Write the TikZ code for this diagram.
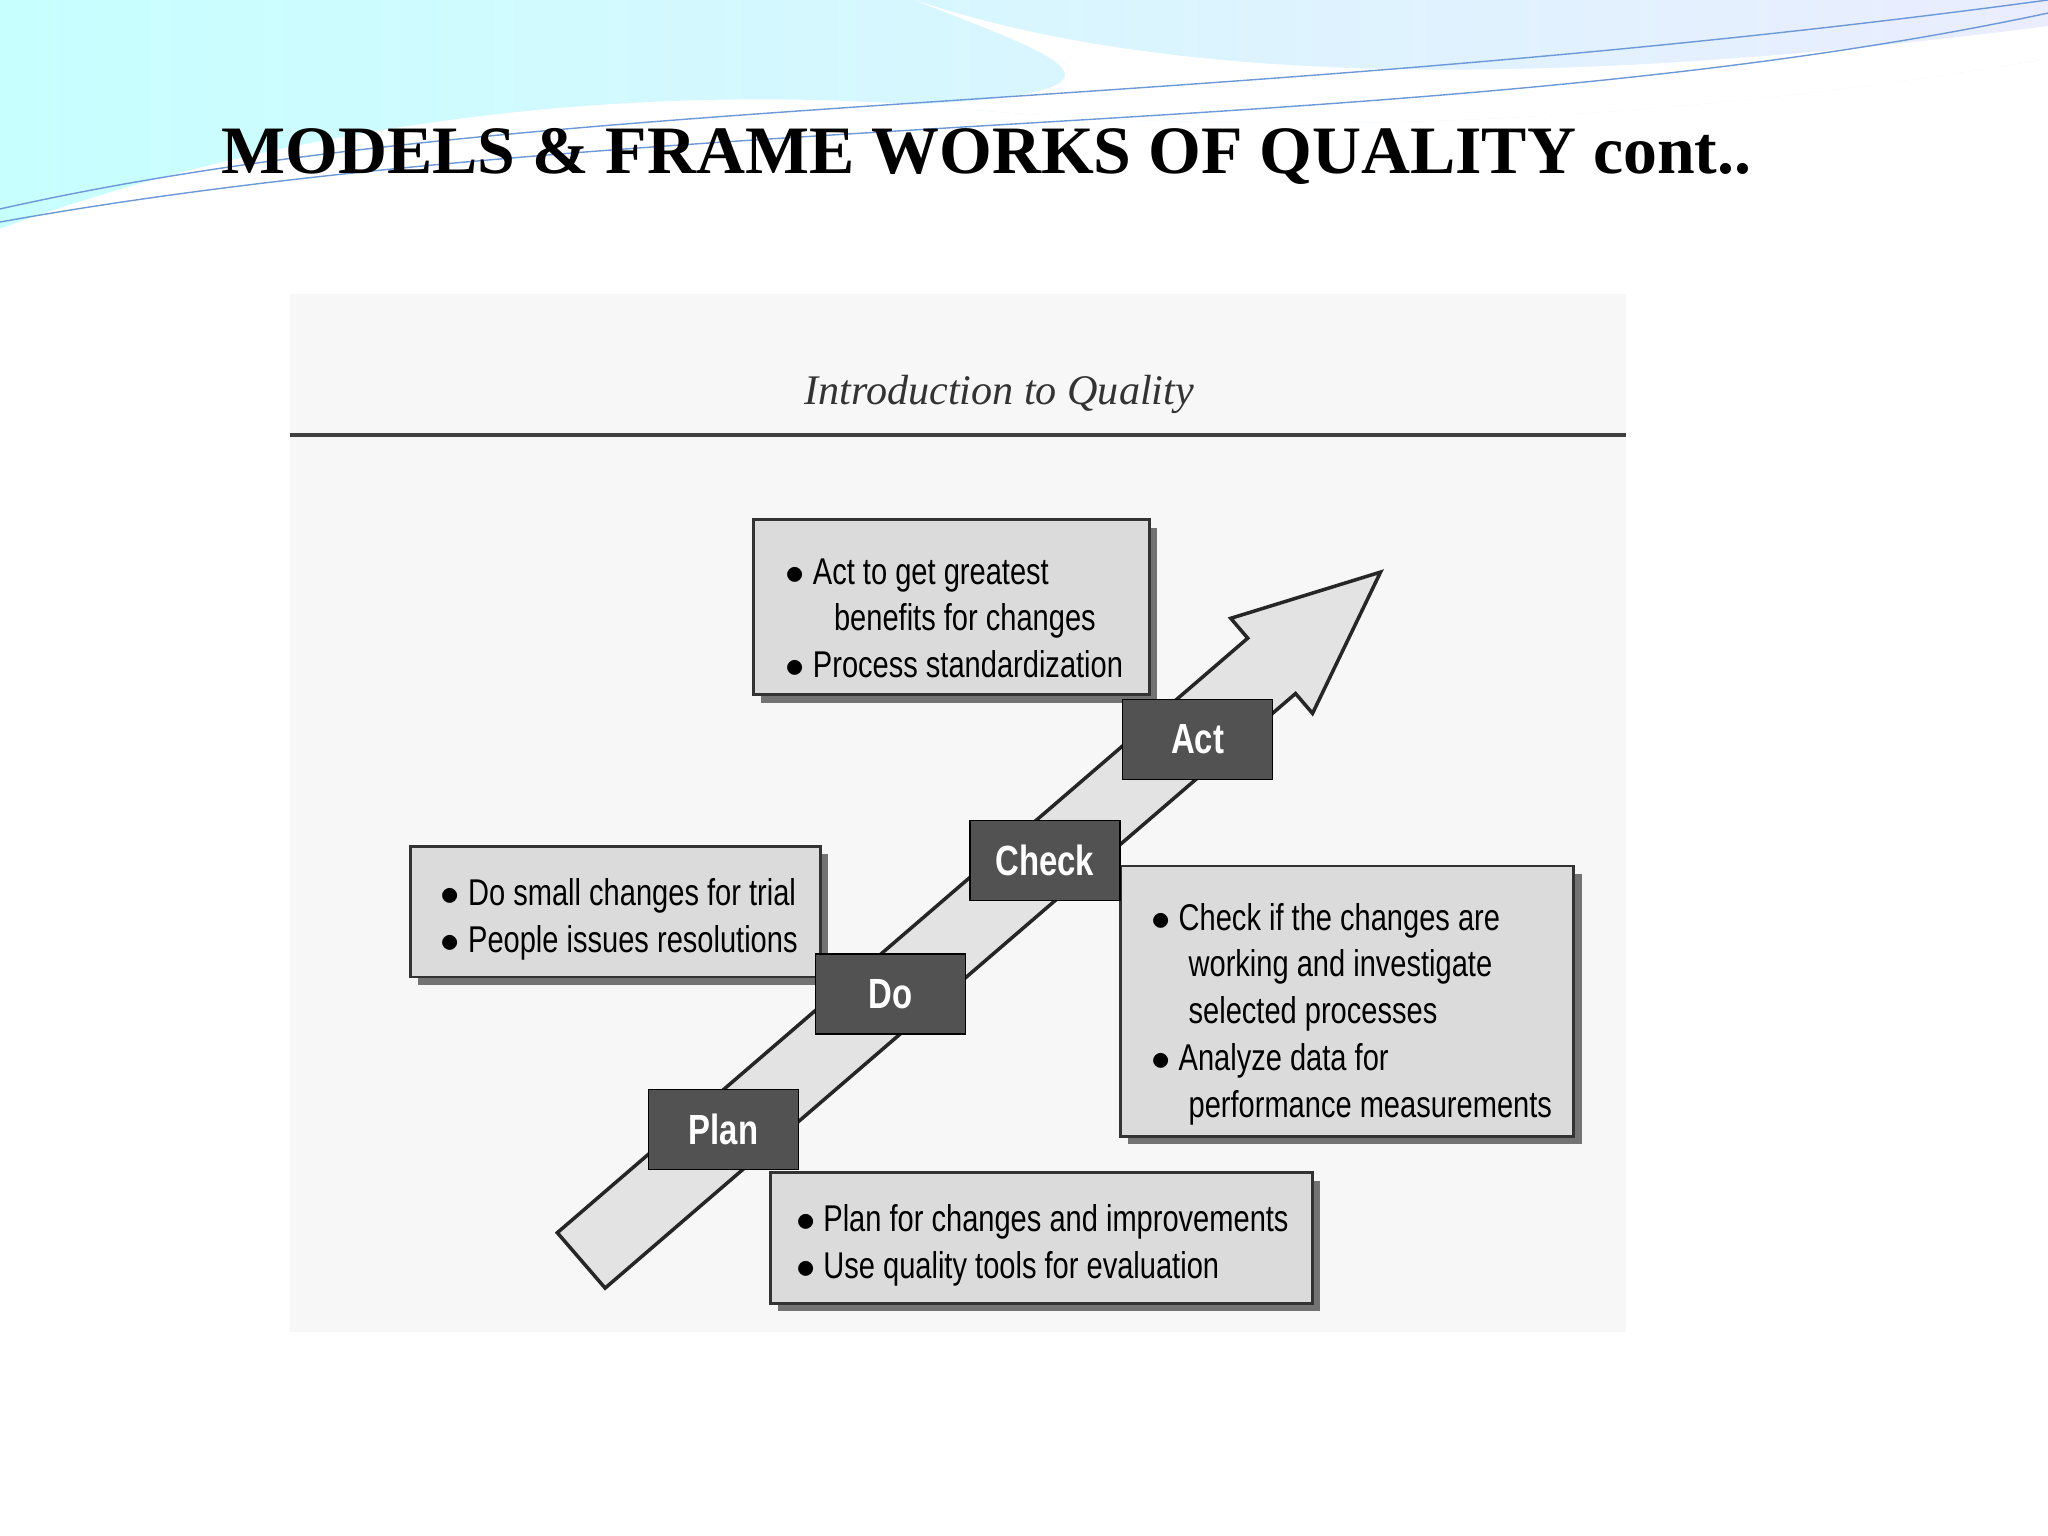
\documentclass[tikz,border=0pt]{standalone}
\usepackage{fontspec}
\setmainfont{Liberation Serif}
\newfontfamily\nar[FakeStretch=0.78]{Liberation Sans}
\begin{document}
\begin{tikzpicture}[x=0.01306cm,y=-0.01306cm,
  txtbox/.style={fill=gray!28,draw=black!80,line width=0.8pt,inner sep=0pt},
  shadow/.style={fill=black!55},
  lab/.style={fill=black!68,draw=black,text=white,font=\nar\fontsize{12}{14}\selectfont\bfseries,minimum width=1.5cm,minimum height=0.8cm},
  body/.style={font=\nar\fontsize{10.6}{13.3}\selectfont,align=left,anchor=north west}]
\useasboundingbox (0,0) rectangle (1568,1176);
\fill[white] (0,0) rectangle (1568,1176);
% top wave
\shade[left color=cyan!22,right color=cyan!12!blue!8] (0,0) -- (1568,0) -- (1568,45) .. controls (1300,90) and (1000,110) .. (700,80) .. controls (400,60) and (150,120) .. (0,175) -- cycle;
\fill[white] (700,0) .. controls (850,50) and (1100,80) .. (1568,20) -- (1568,45) .. controls (1300,90) and (1000,110) .. (700,80) .. controls (900,70) and (800,40) .. (700,0) -- cycle;
\draw[cyan!50!blue!60,thin] (0,160) .. controls (400,70) and (900,90) .. (1568,0);
\draw[cyan!50!blue!60,thin] (0,170) .. controls (500,80) and (1100,110) .. (1568,10);
% title
\node[font=\fontsize{19.3}{23}\selectfont\bfseries,anchor=west] (title) at (160,120) {MODELS \& FRAME WORKS OF QUALITY cont..};
% scanned page
\fill[gray!6] (222,225) rectangle (1245,1020);
\node[font=\itshape\fontsize{12}{14}\selectfont,text=black!80] (hdr) at (765,302) {Introduction to Quality};
\draw[black!75,line width=1pt] (222,333) -- (1245,333);
% arrow
\filldraw[fill=gray!22,draw=black!85,line width=1pt] (463.3,986.2) -- (426.7,943.8) -- (955.3,488.6) -- (942.3,473.4) -- (1057,438) -- (1004.9,546.2) -- (991.9,531.0) -- cycle;
% Act box
\fill[shadow] (583,404) rectangle (886,538);
\filldraw[txtbox] (577,398) rectangle (880,532);
\node[body] (actt) at (592,418) {$\bullet$ Act to get greatest\\\hspace{1.3em}benefits for changes\\$\bullet$ Process standardization};
% Do box
\fill[shadow] (320,654) rectangle (634,754);
\filldraw[txtbox] (314,648) rectangle (628,748);
\node[body] (dot) at (328,663) {$\bullet$ Do small changes for trial\\$\bullet$ People issues resolutions};
% Check box
\fill[shadow] (864,669) rectangle (1211,876);
\filldraw[txtbox] (858,663) rectangle (1205,870);
\node[body] (checkt) at (872,682) {$\bullet$ Check if the changes are\\\hspace{1em}working and investigate\\\hspace{1em}selected processes\\$\bullet$ Analyze data for\\\hspace{1em}performance measurements};
% Plan box
\fill[shadow] (596,904) rectangle (1011,1004);
\filldraw[txtbox] (590,898) rectangle (1005,998);
\node[body] (plant) at (600,913) {$\bullet$ Plan for changes and improvements\\$\bullet$ Use quality tools for evaluation};
% labels
\node[lab] (act) at (917,566) {Act};
\node[lab] (check) at (800,659) {Check};
\node[lab] (do) at (682,761) {Do};
\node[lab] (plan) at (554,865) {Plan};
\end{tikzpicture}
\end{document}
